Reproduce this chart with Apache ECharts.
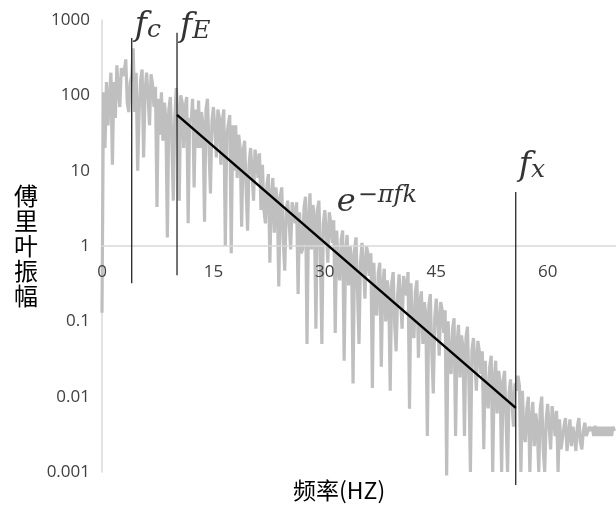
<!DOCTYPE html>
<html>
<head>
<meta charset="utf-8">
<title>傅里叶振幅</title>
<script src="https://cdn.jsdelivr.net/npm/echarts@6/dist/echarts.min.js"></script>
<style>
  body { margin: 0; padding: 0; }
  #main { width: 616px; height: 505px; }
</style>
</head>
<body>
<div id="main"></div>
<script>
  // spectrum samples, one every 0.2 Hz from 0 Hz (one row = 1 Hz)
  const freqStep = 0.2
  const amplitude = [
    0.13, 110, 20, 150, 40,
    90, 200, 12, 150, 50,
    250, 120, 70, 230, 180,
    210, 300, 80, 60, 150,
    180, 420, 60, 200, 10,
    60, 160, 220, 15, 110,
    200, 100, 40, 190, 140,
    70, 130, 3.3, 90, 30,
    110, 25, 80, 50, 1.3,
    65, 95, 25, 4, 50,
    125, 60, 4, 100, 80,
    20, 70, 95, 2, 50,
    45, 90, 6, 65, 20,
    85, 20, 60, 40, 2.1,
    65, 90, 20, 5, 45,
    70, 35, 15, 65, 50,
    12, 45, 65, 1.0, 30,
    30, 55, 0.8, 40, 10,
    40, 8, 30, 20, 1.8,
    18, 25, 6, 1.6, 12,
    20, 10, 4, 19, 14,
    8, 17, 3, 12, 3,
    2, 6.5, 9, 0.6, 4.5,
    8, 1.5, 6, 4, 0.29,
    4.5, 6, 1.2, 0.47, 3,
    4, 2, 0.9, 3.8, 2.8,
    2, 3.8, 0.23, 2.8, 0.8,
    0.9, 3.2, 4.5, 0.05, 2.2,
    5, 0.9, 3.5, 2.4, 0.08,
    3, 4, 0.8, 0.05, 2,
    3, 1.5, 0.6, 2.8, 2,
    1.1, 2.2, 0.07, 1.6, 0.5,
    0.35, 1.2, 1.6, 0.03, 0.8,
    1.4, 0.3, 1, 0.7, 0.015,
    0.9, 1.3, 0.25, 0.05, 0.6,
    1.1, 0.55, 0.2, 1, 0.8,
    0.4, 0.8, 0.013, 0.6, 0.15,
    0.12, 0.45, 0.6, 0.025, 0.3,
    0.5, 0.1, 0.35, 0.25, 0.012,
    0.32, 0.45, 0.09, 0.04, 0.22,
    0.42, 0.2, 0.08, 0.4, 0.3,
    0.22, 0.45, 0.0069, 0.32, 0.07,
    0.06, 0.25, 0.35, 0.033, 0.18,
    0.25, 0.05, 0.18, 0.12, 0.003,
    0.16, 0.23, 0.04, 0.011, 0.11,
    0.2, 0.1, 0.035, 0.18, 0.14,
    0.07, 0.14, 0.0009, 0.1, 0.03,
    0.02, 0.08, 0.11, 0.003, 0.05,
    0.09, 0.018, 0.065, 0.045, 0.003,
    0.06, 0.085, 0.015, 0.001, 0.04,
    0.06, 0.03, 0.012, 0.055, 0.04,
    0.02, 0.04, 0.002, 0.03, 0.009,
    0.007, 0.025, 0.035, 0.001, 0.017,
    0.03, 0.006, 0.022, 0.015, 0.001,
    0.016, 0.022, 0.005, 0.001, 0.011,
    0.017, 0.008, 0.004, 0.015, 0.012,
    0.019, 0.014, 0.001, 0.012, 0.003,
    0.0025, 0.007, 0.01, 0.001, 0.005,
    0.0085, 0.0022, 0.006, 0.004, 0.001,
    0.007, 0.01, 0.002, 0.001, 0.005,
    0.008, 0.004, 0.002, 0.0075, 0.005,
    0.003, 0.0065, 0.001, 0.005, 0.002,
    0.002, 0.004, 0.0052, 0.0019, 0.003,
    0.005, 0.0022, 0.004, 0.003, 0.0019,
    0.004, 0.0052, 0.0025, 0.002, 0.0035,
    0.0045, 0.003, 0.0029, 0.004, 0.0035,
    0.004, 0.003, 0.0041, 0.003, 0.004,
    0.003, 0.004, 0.003, 0.004, 0.003,
    0.004, 0.003, 0.004, 0.003, 0.004,
    0.0035
  ]

  const xTicks = [0, 15, 30, 45, 60]
  const fitLine = [[10.1, 55], [55.7, 0.0071]]

  // f_c, f_E, f_x vertical markers
  const markerNames = ['c', 'E', 'x']
  const markerFreq = [4.0, 10.1, 55.7]
  const markerLow = [0.32, 0.41, 0.00067]
  const markerHigh = [576, 675, 5.2]

  const formulaAt = [31.6, 3.8]

  const labelOffsets = [[0, -12], [0, -5], [0, -26]]

  const mathFont = 'DejaVu Serif'
  const rich = {
    f: { fontFamily: mathFont, fontStyle: 'italic', fontSize: 33, color: '#000' },
    sub: { fontFamily: mathFont, fontStyle: 'italic', fontSize: 25, color: '#000', verticalAlign: 'bottom', padding: [8, 0, 0, 0] },
    e: { fontFamily: mathFont, fontStyle: 'italic', fontSize: 32, color: '#000' },
    sup: { fontFamily: mathFont, fontStyle: 'italic', fontSize: 24, color: '#000', verticalAlign: 'top', padding: [0, 0, 14, 2] }
  }

  const spectrum = amplitude.map((v, i) => [i * freqStep, v])

  const markerSeries = markerNames.map((n, i) => ({
    type: 'line',
    data: [[markerFreq[i], markerLow[i]], [markerFreq[i], markerHigh[i]]],
    symbol: 'none',
    clip: false,
    silent: true,
    lineStyle: { color: '#262626', width: 1.3 },
    z: 4
  }))

  const markerLabels = {
    type: 'scatter',
    symbolSize: 0,
    silent: true,
    z: 6,
    data: markerNames.map((n, i) => ({
      value: [markerFreq[i], markerHigh[i]],
      label: {
        show: true,
        position: 'right',
        distance: 3,
        offset: labelOffsets[i],
        formatter: '{f|f}{sub|' + n + '}',
        rich
      }
    }))
  }

  const myChart = echarts.init(document.getElementById('main'))
  const option = {
    animation: false,
    textStyle: { fontFamily: 'Open Sans' },
    title: {
      text: '频率(HZ)',
      left: 288,
      top: 474,
      textStyle: { fontFamily: 'Noto Sans CJK SC', fontSize: 23, fontWeight: 'normal', color: '#000' }
    },
    grid: { left: 102, right: 0, top: 20, bottom: 33 },
    xAxis: {
      type: 'value',
      min: 0,
      max: 69.2,
      interval: 15,
      offset: -226,
      z: 3,
      axisLine: { onZero: false, lineStyle: { color: '#d9d9d9', width: 1.5 } },
      axisTick: { show: false },
      splitLine: { show: false },
      axisLabel: {
        margin: 18,
        fontSize: 17,
        color: '#404040',
        showMaxLabel: false,
        formatter: v => (xTicks.includes(v) ? String(v) : '')
      }
    },
    yAxis: {
      type: 'log',
      logBase: 10,
      min: 0.001,
      max: 1000,
      name: '傅\n里\n叶\n振\n幅',
      nameLocation: 'middle',
      nameRotate: 0,
      nameGap: 64,
      nameTextStyle: { fontFamily: 'Noto Sans CJK SC', fontSize: 24, lineHeight: 25, color: '#000' },
      axisLine: { show: true, lineStyle: { color: '#d9d9d9', width: 1.5 } },
      axisTick: { show: false },
      splitLine: { show: false },
      axisLabel: {
        margin: 12,
        fontSize: 17,
        color: '#404040',
        formatter: v => String(+(+v).toPrecision(3))
      }
    },
    series: [
      {
        type: 'line',
        data: spectrum,
        symbol: 'none',
        clip: false,
        silent: true,
        lineStyle: { color: '#bfbfbf', width: 3.2 },
        z: 2
      },
      {
        type: 'line',
        data: fitLine,
        symbol: 'none',
        silent: true,
        lineStyle: { color: '#000', width: 2.5 },
        z: 5
      },
      ...markerSeries,
      markerLabels,
      {
        type: 'scatter',
        data: [formulaAt],
        symbolSize: 0,
        silent: true,
        label: {
          show: true,
          position: 'right',
          distance: 0,
          formatter: '{e|e}{sup|−πfk}',
          rich
        },
        z: 6
      }
    ]
  }
  myChart.setOption(option)
</script>
</body>
</html>
